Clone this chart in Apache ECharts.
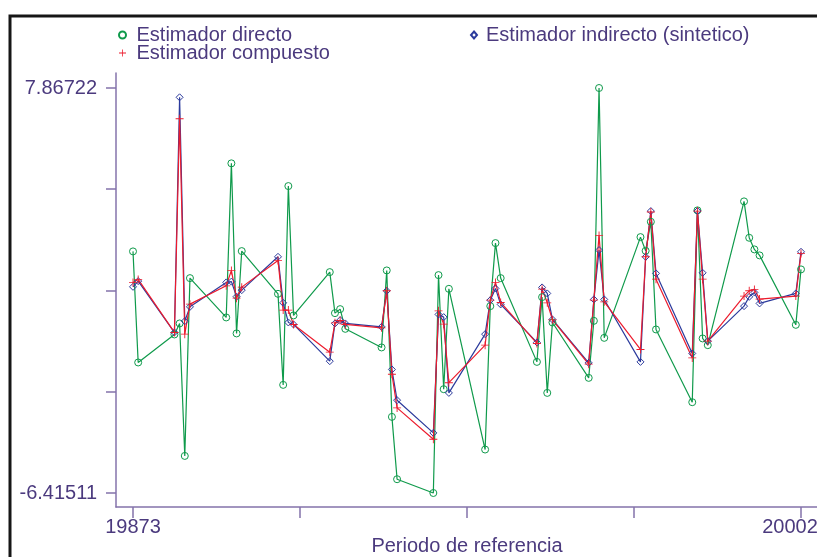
<!DOCTYPE html>
<html>
<head>
<meta charset="utf-8">
<title>Estimadores por periodo de referencia</title>
<script src="https://cdn.jsdelivr.net/npm/echarts@6/dist/echarts.min.js"></script>
<style>
  html, body { margin: 0; padding: 0; background: #ffffff; }
  #chart { width: 817px; height: 557px; }
</style>
</head>
<body>
<div id="chart"></div>
<script>
// Periodo de referencia (año + trimestre)
const periods = [19873, 19874, 19881, 19882, 19883, 19884, 19891, 19892, 19893, 19894,
  19901, 19902, 19903, 19904, 19911, 19912, 19913, 19914, 19921, 19922,
  19923, 19924, 19931, 19932, 19933, 19934, 19941, 19942, 19943, 19944,
  19951, 19952, 19953, 19954, 19961, 19962, 19963, 19964, 19971, 19972,
  19973, 19974, 19981, 19982, 19983, 19984, 19991, 19992, 19993, 19994,
  20001, 20002];

const directo = [2.105, -1.812, -0.824, -0.436, -5.108, 1.163, -0.224, 5.210, -0.788, 2.116,
  0.609, -2.602, 4.409, -0.153, 1.375, -0.072, 0.069, -0.626, -1.282, 1.434,
  -3.731, -5.929, -6.41511, 1.269, -2.754, 0.785, -4.882, 0.175, 2.398, 1.163,
  -1.791, 0.492, -2.885, -0.401, -2.355, -0.344, 7.86722, -0.944, 2.609, 2.126,
  3.149, -0.648, -3.213, 3.552, -0.965, -1.201, 3.869, 2.585, 2.175, 1.964,
  -0.485, 1.470];

const indirecto = [0.856, 1.057, -0.753, 7.539, -0.355, 0.150, 1.011, 1.039, 0.510, 0.739,
  1.914, 0.291, -0.401, -0.471, -1.766, -0.436, -0.319, -0.436, -0.556, 0.715,
  -2.059, -3.142, -4.296, -0.118, -0.213, -2.885, -0.813, 0.386, 0.799, 0.235,
  -1.106, 0.835, 0.623, -0.295, -1.826, 0.411, 2.151, 0.411, -1.791, 1.914,
  3.527, 1.329, -1.494, 3.527, 1.350, -1.060, 0.175, 0.503, 0.658, 0.270,
  0.623, 2.091];

const compuesto = [1.011, 1.117, -0.753, 6.784, -0.813, 0.245, 0.891, 1.434, 0.457, 0.845,
  1.787, 0.034, 0.034, -0.471, -1.448, -0.415, -0.330, -0.471, -0.591, 0.715,
  -2.225, -3.414, -4.518, 0.009, -0.460, -2.525, -1.201, 0.386, 1.011, 0.305,
  -1.141, 0.774, 0.291, -0.309, -1.872, 0.386, 2.669, 0.326, -1.353, 1.914,
  3.492, 1.127, -1.650, 3.527, 1.127, -1.060, 0.528, 0.715, 0.764, 0.422,
  0.528, 2.034];

// Axis ranges and tick labels
const xMin = 19873, xMax = 20002;
const yMin = -6.41511, yMax = 7.86722;
const xTickLabels = ['19873', '', '', '', '20002'];
const yTickLabels = ['-6.41511', '', '', '', '7.86722'];

const NAME_DIRECTO = 'Estimador directo';
const NAME_COMPUESTO = 'Estimador compuesto';
const NAME_INDIRECTO = 'Estimador indirecto (sintetico)';

const GREEN = '#0f9a4b';
const BLUE = '#2b3a9c';
const RED = '#ec1b2d';
const TEXT = '#4b3a7e';
const AXIS = '#8473ab';
const FONT = '"Liberation Sans", Arial, sans-serif';
const PLUS = 'path://M4,0H5V4H9V5H5V9H4V5H0V4H4Z';
const DIAMOND = 'path://M3,0L6,3.5L3,7L0,3.5Z';

const toPairs = vals => periods.map((p, i) => [p, vals[i]]);

const chart = echarts.init(document.getElementById('chart'), null, { renderer: 'canvas' });

const hiddenAxis = (gridIndex) => ({
  type: 'value', gridIndex: gridIndex, min: 0, max: 1,
  axisLine: { show: false, onZero: false }, axisTick: { show: false },
  axisLabel: { show: false }, splitLine: { show: false }
});

// the last x label is nudged left so it stays inside the page
const xLabelFormatter = (v, i) => {
  const txt = xTickLabels[i] || '';
  if (!txt) return '';
  return i === xTickLabels.length - 1 ? '{last|' + txt + '}' : txt;
};

chart.setOption({
  animation: false,
  backgroundColor: '#ffffff',
  textStyle: { fontFamily: FONT },
  grid: [
    // plotting area
    { left: 133, right: 16, top: 88, bottom: 64, outerBoundsMode: 'none', containLabel: false },
    // axis frame
    { left: 116, right: 0, top: 73, bottom: 50, outerBoundsMode: 'none', containLabel: false },
    // outer page frame
    { left: 10, top: 16, width: 900, height: 700, show: true, outerBoundsMode: 'none',
      containLabel: false,
      borderColor: '#161616', borderWidth: 3, backgroundColor: 'transparent' }
  ],
  legend: [
    {
      orient: 'vertical', left: 118, top: 25, padding: 0, itemGap: -2,
      itemWidth: 18, itemHeight: 7, selectedMode: false,
      textStyle: { color: TEXT, fontSize: 20, fontFamily: FONT },
      data: [
        { name: NAME_DIRECTO, icon: 'circle' },
        { name: NAME_COMPUESTO, icon: PLUS }
      ]
    },
    {
      orient: 'vertical', left: 470, top: 25, padding: 0,
      itemWidth: 14, itemHeight: 7, selectedMode: false,
      textStyle: { color: TEXT, fontSize: 20, fontFamily: FONT },
      data: [{ name: NAME_INDIRECTO, icon: DIAMOND }]
    }
  ],
  xAxis: [
    {
      type: 'value', gridIndex: 0, min: xMin, max: xMax, interval: (xMax - xMin) / 4,
      offset: 14,
      name: 'Periodo de referencia', nameLocation: 'middle', nameGap: 29,
      nameMoveOverlap: false,
      nameTextStyle: { color: TEXT, fontSize: 20, fontFamily: FONT },
      axisLine: { show: false, onZero: false },
      axisTick: { show: true, length: 11, lineStyle: { color: AXIS, width: 1.5 } },
      axisLabel: {
        color: TEXT, fontSize: 20, fontFamily: FONT, margin: 10,
        formatter: xLabelFormatter,
        rich: {
          last: { color: TEXT, fontSize: 20, fontFamily: FONT, padding: [0, 22, 0, 0] }
        }
      },
      splitLine: { show: false }
    },
    Object.assign(hiddenAxis(1), {
      axisLine: { show: true, onZero: false, lineStyle: { color: AXIS, width: 1.5 } }
    }),
    hiddenAxis(2)
  ],
  yAxis: [
    {
      type: 'value', gridIndex: 0, min: yMin, max: yMax, interval: (yMax - yMin) / 4,
      offset: 17,
      axisLine: { show: false, onZero: false },
      axisTick: { show: true, length: 10, lineStyle: { color: AXIS, width: 1.5 } },
      axisLabel: {
        color: TEXT, fontSize: 20, fontFamily: FONT, margin: 19,
        formatter: (v, i) => yTickLabels[i] || ''
      },
      splitLine: { show: false }
    },
    Object.assign(hiddenAxis(1), {
      axisLine: { show: true, onZero: false, lineStyle: { color: AXIS, width: 1.5 } }
    }),
    hiddenAxis(2)
  ],
  series: [
    {
      name: NAME_DIRECTO, type: 'line', xAxisIndex: 0, yAxisIndex: 0,
      data: toPairs(directo), clip: false,
      symbol: 'circle', symbolSize: 7,
      itemStyle: { color: 'rgba(255,255,255,0)', borderColor: GREEN, borderWidth: 1 },
      lineStyle: { color: GREEN, width: 1.2 }
    },
    {
      name: NAME_INDIRECTO, type: 'line', xAxisIndex: 0, yAxisIndex: 0,
      data: toPairs(indirecto), clip: false,
      symbol: 'diamond', symbolSize: 7,
      itemStyle: { color: 'rgba(255,255,255,0)', borderColor: BLUE, borderWidth: 1 },
      lineStyle: { color: BLUE, width: 1.2 }
    },
    {
      name: NAME_COMPUESTO, type: 'line', xAxisIndex: 0, yAxisIndex: 0,
      data: toPairs(compuesto), clip: false,
      symbol: PLUS, symbolSize: 8,
      itemStyle: { color: RED },
      lineStyle: { color: RED, width: 1.2 }
    }
  ]
});
</script>
</body>
</html>
